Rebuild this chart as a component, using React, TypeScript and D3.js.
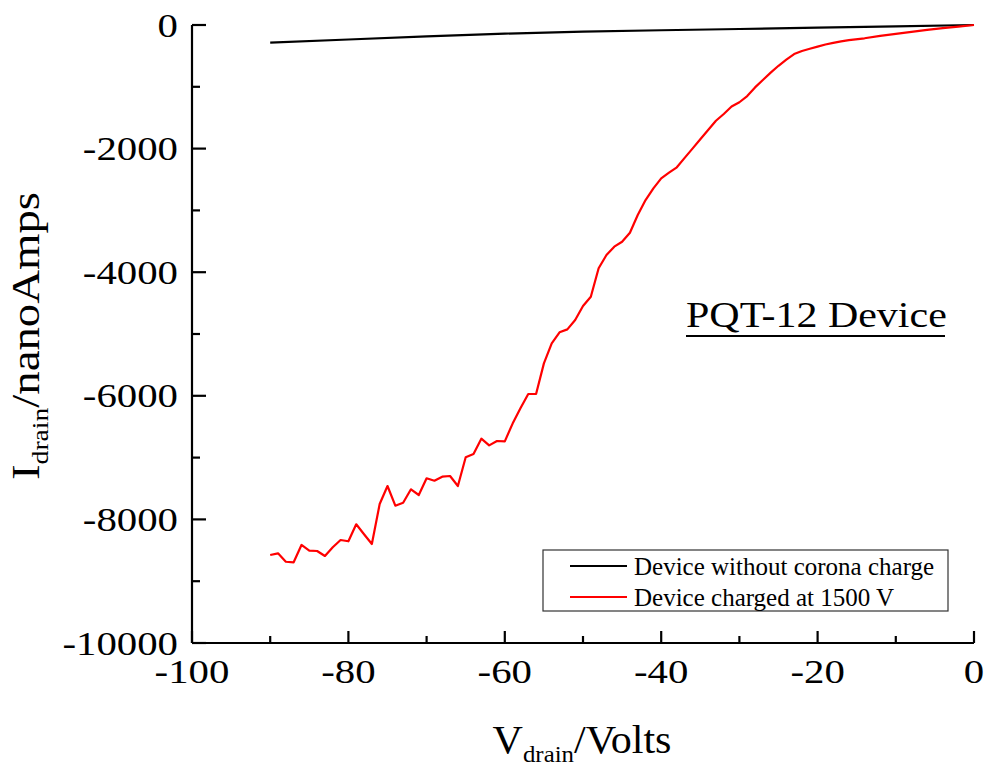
import React, { useEffect, useRef } from "react";
import * as d3 from "d3";

const blackV = [-90, -80, -70, -60, -50, -40, -30, -20, -10, 0];
const blackI = [-285, -235, -185, -140, -108, -85, -65, -43, -21, 0];

const redV = [
  -90, -89, -88, -87, -86, -85, -84, -83, -82, -81, -80, -79, -78, -77, -76, -75, -74, -73, -72, -71,
  -70, -69, -68, -67, -66, -65, -64, -63, -62, -61, -60, -59, -58, -57, -56, -55, -54, -53, -52, -51,
  -50, -49, -48, -47, -46, -45, -44, -43, -42, -41, -40, -39, -38, -37, -36, -35, -34, -33, -32, -31,
  -30, -29, -28, -27, -26, -25, -24, -23, -22, -21, -20, -19, -18, -17, -16, -14, -12, -10, -8, -6,
  -4, -2, 0,
];
const redI = [
  -8576, -8549, -8685, -8694, -8414, -8506, -8511, -8592, -8451, -8333, -8354, -8079, -8240, -8398, -7751, -7460, -7778, -7730, -7513, -7605,
  -7335, -7374, -7309, -7298, -7460, -6995, -6942, -6694, -6802, -6731, -6737, -6450, -6203, -5971, -5971, -5475, -5151, -4973, -4925, -4773,
  -4547, -4396, -3937, -3722, -3587, -3507, -3361, -3075, -2832, -2643, -2481, -2390, -2303, -2150, -2000, -1850, -1700, -1550, -1440, -1320,
  -1250, -1150, -1010, -890, -770, -660, -560, -470, -420, -385, -350, -315, -290, -265, -245, -215, -175, -145, -110, -78,
  -50, -25, 0,
];

const xMajor = [-100, -80, -60, -40, -20, 0];
const xMinor = [-90, -70, -50, -30, -10];
const yMajor = [0, -2000, -4000, -6000, -8000, -10000];
const yMinor = [-1000, -3000, -5000, -7000, -9000];

const legendLabels = ["Device without corona charge", "Device charged at 1500 V"];
const seriesColors = ["#000000", "#ff0000"];

export default function App() {
  const ref = useRef<SVGSVGElement>(null);

  useEffect(() => {
    const svg = d3.select(ref.current);
    svg.selectAll("*").remove();
    const font = "'Liberation Serif', 'Times New Roman', serif";

    const x = d3.scaleLinear().domain([-100, 0]).range([192, 974]);
    const y = d3.scaleLinear().domain([-10000, 0]).range([643, 25]);

    const line = d3
      .line<[number, number]>()
      .x((d) => x(d[0]))
      .y((d) => y(d[1]));

    const blackData: [number, number][] = blackV.map((v, i) => [v, blackI[i]]);
    const redData: [number, number][] = redV.map((v, i) => [v, redI[i]]);

    svg.append("path").datum(blackData).attr("d", line).attr("fill", "none")
      .attr("stroke", seriesColors[0]).attr("stroke-width", 2.2).attr("stroke-linejoin", "round");
    svg.append("path").datum(redData).attr("d", line).attr("fill", "none")
      .attr("stroke", seriesColors[1]).attr("stroke-width", 2.2).attr("stroke-linejoin", "round");

    // axes lines
    const ax = svg.append("g").attr("stroke", "#000").attr("stroke-width", 2.2);
    ax.append("line").attr("x1", x(-100)).attr("x2", x(0)).attr("y1", y(-10000)).attr("y2", y(-10000));
    ax.append("line").attr("x1", x(-100)).attr("x2", x(-100)).attr("y1", y(-10000)).attr("y2", y(0));
    xMajor.forEach((v) => {
      ax.append("line").attr("x1", x(v)).attr("x2", x(v)).attr("y1", y(-10000)).attr("y2", y(-10000) - 12);
    });
    xMinor.forEach((v) => {
      ax.append("line").attr("x1", x(v)).attr("x2", x(v)).attr("y1", y(-10000)).attr("y2", y(-10000) - 7);
    });
    yMajor.forEach((v) => {
      ax.append("line").attr("x1", x(-100)).attr("x2", x(-100) + 14).attr("y1", y(v)).attr("y2", y(v));
    });
    yMinor.forEach((v) => {
      ax.append("line").attr("x1", x(-100)).attr("x2", x(-100) + 8).attr("y1", y(v)).attr("y2", y(v));
    });

    const sx = 1.2;
    xMajor.forEach((v) => {
      svg.append("text")
        .attr("transform", `translate(${x(v)},683) scale(${sx},1)`)
        .attr("text-anchor", "middle").attr("font-family", font).attr("font-size", 34)
        .attr("fill", "#000").text(String(v));
    });
    yMajor.forEach((v) => {
      svg.append("text")
        .attr("transform", `translate(178,${y(v) + 11.5}) scale(${sx},1)`)
        .attr("text-anchor", "end").attr("font-family", font).attr("font-size", 34)
        .attr("fill", "#000").text(String(v));
    });

    // x title
    const xt = svg.append("text").attr("transform", "translate(582,753) scale(1.08,1)").attr("text-anchor", "middle")
      .attr("font-family", font).attr("font-size", 39).attr("fill", "#000");
    xt.append("tspan").text("V");
    xt.append("tspan").attr("font-size", 23).attr("dy", 9).text("drain");
    xt.append("tspan").attr("dy", -9).text("/Volts");

    // y title
    const yt = svg.append("text").attr("transform", "translate(39,336) rotate(-90) scale(1.2,1)").attr("text-anchor", "middle")
      .attr("font-family", font).attr("font-size", 39).attr("fill", "#000");
    yt.append("tspan").text("I");
    yt.append("tspan").attr("font-size", 23).attr("dy", 9).text("drain");
    yt.append("tspan").attr("dy", -9).text("/nanoAmps");

    // annotation
    svg.append("text").attr("transform", "translate(686,327) scale(1.2,1)").attr("font-family", font)
      .attr("font-size", 35).attr("fill", "#000").text("PQT-12 Device");
    svg.append("line").attr("x1", 686).attr("x2", 945).attr("y1", 336).attr("y2", 336)
      .attr("stroke", "#000").attr("stroke-width", 2);

    // legend
    svg.append("rect").attr("x", 543).attr("y", 550).attr("width", 405).attr("height", 61)
      .attr("fill", "#fff").attr("stroke", "#333").attr("stroke-width", 1.2);
    legendLabels.forEach((lab, i) => {
      const ly = 566 + i * 31;
      svg.append("line").attr("x1", 570).attr("x2", 627).attr("y1", ly).attr("y2", ly)
        .attr("stroke", seriesColors[i]).attr("stroke-width", 2.2);
      svg.append("text").attr("x", 634).attr("y", ly + 9).attr("font-family", font)
        .attr("font-size", 25).attr("fill", "#000").text(lab);
    });
  }, []);

  return (
    <svg
      ref={ref}
      width={987}
      height={769}
      style={{ position: "absolute", left: 0, top: 0, background: "#fff" }}
    />
  );
}
